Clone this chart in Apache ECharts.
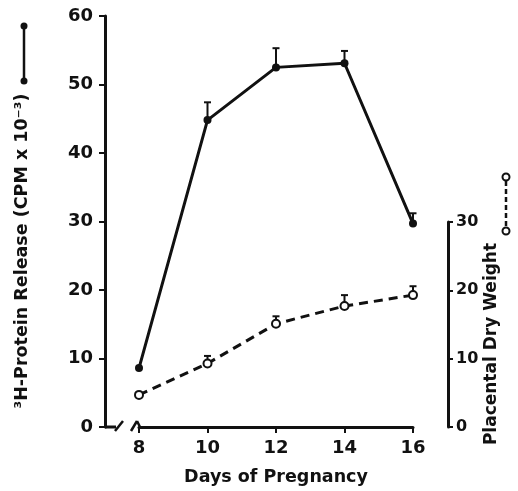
<!DOCTYPE html>
<html>
<head>
<meta charset="utf-8">
<script src="https://cdn.jsdelivr.net/npm/echarts@6/dist/echarts.min.js"></script>
<style>
  html, body { margin: 0; padding: 0; background: #fff; }
  #main { width: 518px; height: 491px; }
</style>
</head>
<body>
<div id="main"></div>
<script>
// data
const days = [8, 10, 12, 14, 16]
const proteinRelease = [8.6, 44.8, 52.5, 53.1, 29.7]
const proteinErr = [0, 2.6, 2.8, 1.8, 1.5]
const dryWeight = [4.7, 9.3, 15.1, 17.7, 19.3]
const dryWeightErr = [0, 1.1, 1.1, 1.6, 1.3]

const font = 'DejaVu Sans'
const ink = '#111'

const myChart = echarts.init(document.getElementById('main'))

// upward error bar with a small cap
function errorBar (params, api) {
  const e = api.value(2)
  if (!e) return null
  const p0 = api.coord([api.value(0), api.value(1)])
  const p1 = api.coord([api.value(0), api.value(1) + e])
  const style = { stroke: ink, lineWidth: 2 }
  return {
    type: 'group',
    children: [
      { type: 'line', shape: { x1: p0[0], y1: p0[1], x2: p1[0], y2: p1[1] }, style: style },
      { type: 'line', shape: { x1: p1[0] - 3.5, y1: p1[1], x2: p1[0] + 3.5, y2: p1[1] }, style: style }
    ]
  }
}

const labelText = { color: ink, fontFamily: font, fontWeight: 'bold', fontSize: 18 }
const rightLabelText = { color: ink, fontFamily: font, fontWeight: 'bold', fontSize: 16 }
const nameText = { color: ink, fontFamily: font, fontWeight: 'bold', fontSize: 17.5 }
const rightNameText = { color: ink, fontFamily: font, fontWeight: 'bold', fontSize: 17 }

const option = {
  backgroundColor: '#fff',
  animation: false,
  grid: [
    { left: 139, right: 105, top: 16, bottom: 64 },
    { left: 139, right: 105, top: 222, bottom: 64 }
  ],
  xAxis: [
    {
      type: 'value', gridIndex: 0, min: 8, max: 16, interval: 2,
      name: 'Days of Pregnancy', nameLocation: 'middle', nameGap: 41,
      nameTextStyle: nameText,
      splitLine: { show: false },
      axisLine: { lineStyle: { color: ink, width: 3 } },
      axisTick: { length: 6, lineStyle: { color: ink, width: 2 } },
      axisLabel: Object.assign({ margin: 12 }, labelText)
    },
    { type: 'value', gridIndex: 1, min: 8, max: 16, show: false }
  ],
  yAxis: [
    {
      type: 'value', gridIndex: 0, min: 0, max: 60, interval: 10,
      position: 'left', offset: 34,
      name: '{t|³H-Protein Release (CPM x 10⁻³)}{g|}',
      nameLocation: 'middle', nameRotate: 90, nameGap: 74,
      nameTextStyle: { rich: { t: nameText, g: { width: 59 } } },
      splitLine: { show: false },
      axisLine: { show: true, lineStyle: { color: ink, width: 3 } },
      axisTick: { show: true, length: 6, lineStyle: { color: ink, width: 2 } },
      axisLabel: Object.assign({ margin: 12 }, labelText)
    },
    {
      type: 'value', gridIndex: 1, min: 0, max: 30, interval: 10,
      position: 'right', offset: 35,
      name: '{t|Placental Dry Weight}{g|}',
      nameLocation: 'middle', nameRotate: 90, nameGap: 35,
      nameMoveOverlap: false,
      nameTextStyle: { rich: { t: rightNameText, g: { width: 39 } } },
      splitLine: { show: false },
      axisLine: { show: true, lineStyle: { color: ink, width: 3 } },
      axisTick: { show: true, length: 5, lineStyle: { color: ink, width: 2 } },
      axisLabel: Object.assign({ margin: 8 }, rightLabelText)
    }
  ],
  series: [
    {
      name: 'protein-err', type: 'custom', xAxisIndex: 0, yAxisIndex: 0, z: 1,
      renderItem: errorBar,
      data: days.map((d, i) => [d, proteinRelease[i], proteinErr[i]])
    },
    {
      name: 'weight-err', type: 'custom', xAxisIndex: 1, yAxisIndex: 1, z: 1,
      renderItem: errorBar,
      data: days.map((d, i) => [d, dryWeight[i], dryWeightErr[i]])
    },
    {
      name: '³H-Protein Release', type: 'line', xAxisIndex: 0, yAxisIndex: 0, z: 3,
      data: days.map((d, i) => [d, proteinRelease[i]]),
      symbol: 'circle', symbolSize: 8,
      lineStyle: { color: ink, width: 3 },
      itemStyle: { color: ink, borderWidth: 0 }
    },
    {
      name: 'Placental Dry Weight', type: 'line', xAxisIndex: 1, yAxisIndex: 1, z: 3,
      data: days.map((d, i) => [d, dryWeight[i]]),
      symbol: 'circle', symbolSize: 8,
      lineStyle: { color: ink, width: 3, type: [9, 6] },
      itemStyle: { color: '#fff', borderColor: ink, borderWidth: 2 }
    }
  ]
}

myChart.setOption(option)

// axis break on the x axis and the little keys next to the axis titles
const y0 = myChart.convertToPixel({ yAxisIndex: 0 }, 0)
const keyStroke = { stroke: ink, lineWidth: 2.5 }
myChart.setOption({
  graphic: [
    { type: 'line', shape: { x1: 105, y1: y0, x2: 116, y2: y0 }, style: { stroke: ink, lineWidth: 3 } },
    { type: 'line', shape: { x1: 115, y1: y0 + 4, x2: 123, y2: y0 - 6 }, style: keyStroke },
    { type: 'line', shape: { x1: 131, y1: y0 + 4, x2: 137, y2: y0 - 6 }, style: keyStroke },
    { type: 'line', shape: { x1: 137, y1: y0 - 6, x2: 140, y2: y0 }, style: keyStroke },
    // filled key (left)
    { type: 'line', shape: { x1: 24, y1: 26, x2: 24, y2: 81 }, style: keyStroke },
    { type: 'circle', shape: { cx: 24, cy: 26, r: 3.5 }, style: { fill: ink } },
    { type: 'circle', shape: { cx: 24, cy: 81, r: 3.5 }, style: { fill: ink } },
    // open key (right)
    { type: 'line', shape: { x1: 506, y1: 181, x2: 506, y2: 228 }, style: { stroke: ink, lineWidth: 2.5, lineDash: [5, 3] } },
    { type: 'circle', shape: { cx: 506, cy: 177, r: 3.5 }, style: { fill: '#fff', stroke: ink, lineWidth: 2 } },
    { type: 'circle', shape: { cx: 506, cy: 231, r: 3.5 }, style: { fill: '#fff', stroke: ink, lineWidth: 2 } }
  ]
})
</script>
</body>
</html>
